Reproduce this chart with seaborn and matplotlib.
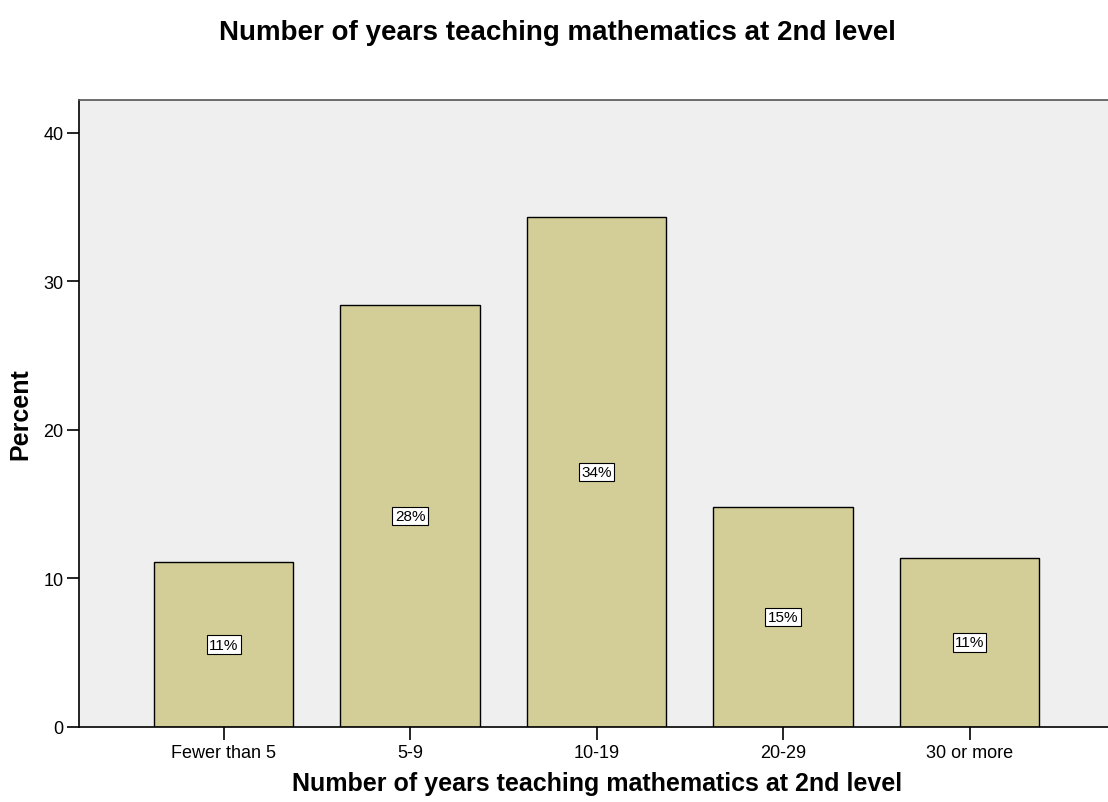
import matplotlib
matplotlib.use("Agg")
import matplotlib.pyplot as plt
import seaborn as sns
import pandas as pd

# data
categories = ["Fewer than 5", "5-9", "10-19", "20-29", "30 or more"]
percent = [11.1, 28.4, 34.3, 14.8, 11.4]
labels = ["11%", "28%", "34%", "15%", "11%"]

df = pd.DataFrame({"years": categories, "percent": percent})

sns.set_style("white")
plt.rcParams["font.family"] = ["Liberation Sans", "DejaVu Sans"]
plt.rcParams["text.color"] = "black"
plt.rcParams["axes.labelcolor"] = "black"

fig = plt.figure(figsize=(11.08, 8.03), dpi=100)
ax = fig.add_axes([0.0713, 0.0934, 0.935, 0.781])

sns.barplot(data=df, x="years", y="percent", color="#D3CE97", saturation=1,
            width=0.746, edgecolor="black", linewidth=1.0, ax=ax)

ax.set_facecolor("#EFEFEF")
ax.set_xlim(-0.775, 4.78)
ax.set_ylim(0, 42.2)
ax.set_yticks([0, 10, 20, 30, 40])

for i, (v, lab) in enumerate(zip(percent, labels)):
    ax.text(i, v / 2, lab, ha="center", va="center", fontsize=11,
            bbox=dict(boxstyle="square,pad=0.15", facecolor="white",
                      edgecolor="black", linewidth=0.8))

for s in ["left", "bottom", "top"]:
    ax.spines[s].set_visible(True)
    ax.spines[s].set_color("black")
    ax.spines[s].set_linewidth(1.2)
ax.spines["top"].set_color("#555555")
ax.spines["right"].set_visible(False)

ax.tick_params(axis="both", direction="out", length=9, width=1.2,
               labelsize=13, colors="black", left=True, bottom=True)
ax.tick_params(axis="y", pad=2)

ax.set_xlabel("Number of years teaching mathematics at 2nd level",
              fontsize=18, fontweight="bold", labelpad=7)
ax.set_ylabel("Percent", fontsize=18, fontweight="bold", labelpad=8)
fig.suptitle("Number of years teaching mathematics at 2nd level",
             fontsize=20, fontweight="bold", x=0.503, y=0.975)

fig.savefig("out.png", dpi=100)
